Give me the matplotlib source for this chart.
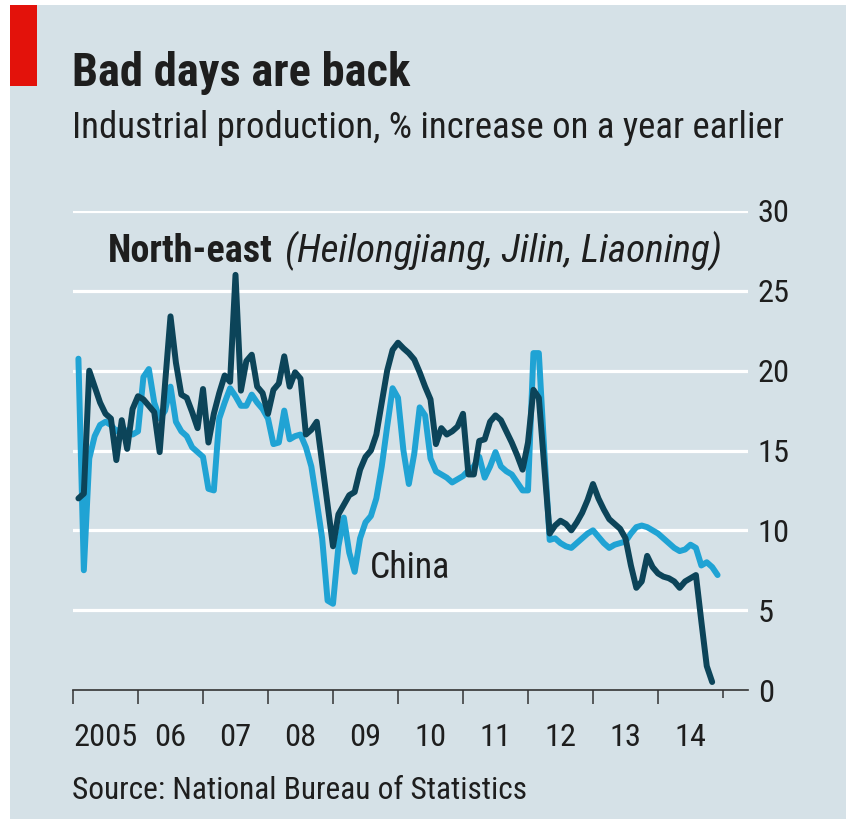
import numpy as np
import matplotlib
matplotlib.use('Agg')
import matplotlib.pyplot as plt
from matplotlib import font_manager
from matplotlib.patches import Rectangle

W, H, DPI = 846, 819, 100

BG = '#d5e1e7'
RED = '#e3120b'
DARK = '#0c4459'
LIGHT = '#20a3d4'
TEXT = '#1e1e1e'
GRID = '#ffffff'

# pick a condensed face if one is there
FONT = 'DejaVu Sans'
for name in ['Liberation Sans Narrow', 'Roboto Condensed', 'Open Sans', 'Liberation Sans']:
    try:
        font_manager.findfont(name, fallback_to_default=False)
        FONT = name
        break
    except Exception:
        continue
plt.rcParams['font.family'] = [FONT, 'DejaVu Sans']

# monthly, Jan 2005 onwards (% on a year earlier)
north_east = [
    12.0, 12.3, 20.0, 19.0, 18.0, 17.3, 17.0, 14.4, 16.9, 15.1, 17.6, 18.4,   # 2005
    18.2, 17.8, 17.4, 14.9, 19.2, 23.4, 20.5, 18.5, 18.3, 17.4, 16.4, 18.85,  # 2006
    15.5, 17.3, 18.6, 19.7, 19.3, 26.0, 18.75, 20.6, 21.0, 19.0, 18.6, 17.3,  # 2007
    18.8, 19.2, 20.9, 19.0, 19.9, 19.5, 16.0, 16.3, 16.8, 14.2, 11.6, 9.0,    # 2008
    11.0, 11.6, 12.2, 12.4, 13.8, 14.6, 15.0, 16.0, 18.0, 20.0, 21.3, 21.75,  # 2009
    21.4, 21.1, 20.7, 19.9, 19.0, 18.2, 15.4, 16.4, 16.0, 16.2, 16.5, 17.3,   # 2010
    13.5, 13.5, 15.6, 15.7, 16.8, 17.2, 16.9, 16.2, 15.5, 14.7, 13.8, 15.5,   # 2011
    18.8, 18.3, 14.0, 9.8, 10.3, 10.6, 10.4, 10.0, 10.5, 11.1, 11.9, 12.9,    # 2012
    12.0, 11.3, 10.7, 10.4, 10.1, 9.5, 7.8, 6.4, 6.8, 8.4, 7.7, 7.3,          # 2013
    7.1, 7.0, 6.8, 6.4, 6.8, 7.0, 7.2, 4.3, 1.5, 0.5,                         # 2014
]
china = [
    20.75, 7.5, 14.5, 15.9, 16.6, 16.8, 16.6, 16.2, 16.4, 16.2, 16.0, 16.2,   # 2005
    19.6, 20.1, 18.0, 17.0, 17.5, 19.0, 16.8, 16.2, 15.9, 15.2, 14.9, 14.6,   # 2006
    12.6, 12.5, 17.0, 18.0, 18.9, 18.4, 17.8, 17.8, 18.5, 18.0, 17.6, 17.0,   # 2007
    15.4, 15.5, 17.5, 15.7, 15.9, 16.0, 15.2, 14.0, 11.8, 9.5, 5.6, 5.4,      # 2008
    9.0, 10.8, 8.6, 7.4, 9.5, 10.5, 10.9, 12.0, 14.0, 16.5, 18.9, 18.3,       # 2009
    15.0, 12.9, 14.8, 17.7, 17.2, 14.5, 13.7, 13.5, 13.3, 13.0, 13.2, 13.4,   # 2010
    13.75, 14.0, 14.6, 13.3, 14.0, 14.9, 14.0, 13.7, 13.5, 13.0, 12.5, 12.5,  # 2011
    21.1, 21.1, 15.0, 9.4, 9.5, 9.2, 9.0, 8.9, 9.2, 9.5, 9.8, 10.0,           # 2012
    9.6, 9.2, 8.9, 9.1, 9.2, 9.3, 9.8, 10.2, 10.3, 10.2, 10.0, 9.8,           # 2013
    9.5, 9.2, 8.9, 8.7, 8.8, 9.1, 8.9, 7.8, 8.0, 7.7, 7.2,                    # 2014
]
years = list(range(2005, 2015))
year_labels = ['2005', '06', '07', '08', '09', '10', '11', '12', '13', '14']
y_ticks = [0, 5, 10, 15, 20, 25, 30]

# month-end positions in decimal years
t_ne = 2005 + (np.arange(len(north_east)) + 1) / 12
t_cn = 2005 + (np.arange(len(china)) + 1) / 12


def fx(px):
    return px / W


def fy(py):
    return 1 - py / H


fig = plt.figure(figsize=(W / DPI, H / DPI), dpi=DPI)
fig.patch.set_facecolor('white')
fig.patches.append(Rectangle((fx(10), 0), 1 - fx(10), fy(5), transform=fig.transFigure,
                             facecolor=BG, edgecolor='none', zorder=-10))
fig.patches.append(Rectangle((fx(10), fy(86)), fx(27), fy(5) - fy(86), transform=fig.transFigure,
                             facecolor=RED, edgecolor='none', zorder=-5))

renderer = fig.canvas.get_renderer()


def fit(t, width_px):
    bb = t.get_window_extent(renderer)
    t.set_fontsize(t.get_fontsize() * width_px / bb.width)
    return t


fit(fig.text(fx(72), fy(86), 'Bad days are back', fontsize=30, fontweight='bold',
             color=TEXT, va='baseline'), 338)
fit(fig.text(fx(72), fy(138), 'Industrial production, % increase on a year earlier',
             fontsize=22, color=TEXT, va='baseline'), 711)
fit(fig.text(fx(72), fy(799), 'Source: National Bureau of Statistics', fontsize=18,
             color=TEXT, va='baseline'), 456)
fit(fig.text(fx(108), fy(262), 'North-east', fontsize=20, fontweight='bold',
             color=TEXT, va='baseline'), 164)
fit(fig.text(fx(285), fy(262), '(Heilongjiang, Jilin, Liaoning)', fontsize=20,
             fontstyle='italic', color=TEXT, va='baseline'), 435)
fit(fig.text(fx(370), fy(578), 'China', fontsize=20, color=TEXT, va='baseline'), 80)

probe = fit(fig.text(0, 0, '2005', fontsize=20), 64)
TICK_FS = probe.get_fontsize()
probe.remove()

ax = fig.add_axes([fx(73), fy(690), fx(748) - fx(73), fy(211) - fy(690)])
ax.set_facecolor('none')
ax.set_xlim(2005, 2005 + (748 - 73) / 65)
ax.set_ylim(0, 30)

for v in y_ticks[1:]:
    ax.axhline(v, color=GRID, lw=2.3, zorder=1)

ax.plot(t_cn, china, color=LIGHT, lw=4.3, solid_joinstyle='round',
        solid_capstyle='round', zorder=3, clip_on=False)
ax.plot(t_ne, north_east, color=DARK, lw=4.3, solid_joinstyle='round',
        solid_capstyle='round', zorder=4, clip_on=False)

for s in ['top', 'left', 'right']:
    ax.spines[s].set_visible(False)
ax.spines['bottom'].set_color('#333333')
ax.spines['bottom'].set_linewidth(1.2)

ax.set_xticks(years + [2015])
ax.set_xticklabels([])
ax.tick_params(axis='x', which='major', length=10, width=1.1, color='#333333', direction='out')
ax.xaxis.get_major_ticks()[-1].tick1line.set_markersize(6)
ax.set_xticks([y + 0.5 for y in years], minor=True)
ax.set_xticklabels(year_labels, minor=True, fontsize=TICK_FS, color=TEXT)
ax.tick_params(axis='x', which='minor', length=0, pad=24)

ax.yaxis.tick_right()
ax.set_yticks(y_ticks)
ax.set_yticklabels([str(v) for v in y_ticks], fontsize=TICK_FS, color=TEXT)
ax.tick_params(axis='y', length=0, pad=7)

fig.savefig('out.png', dpi=DPI, facecolor=fig.get_facecolor())
